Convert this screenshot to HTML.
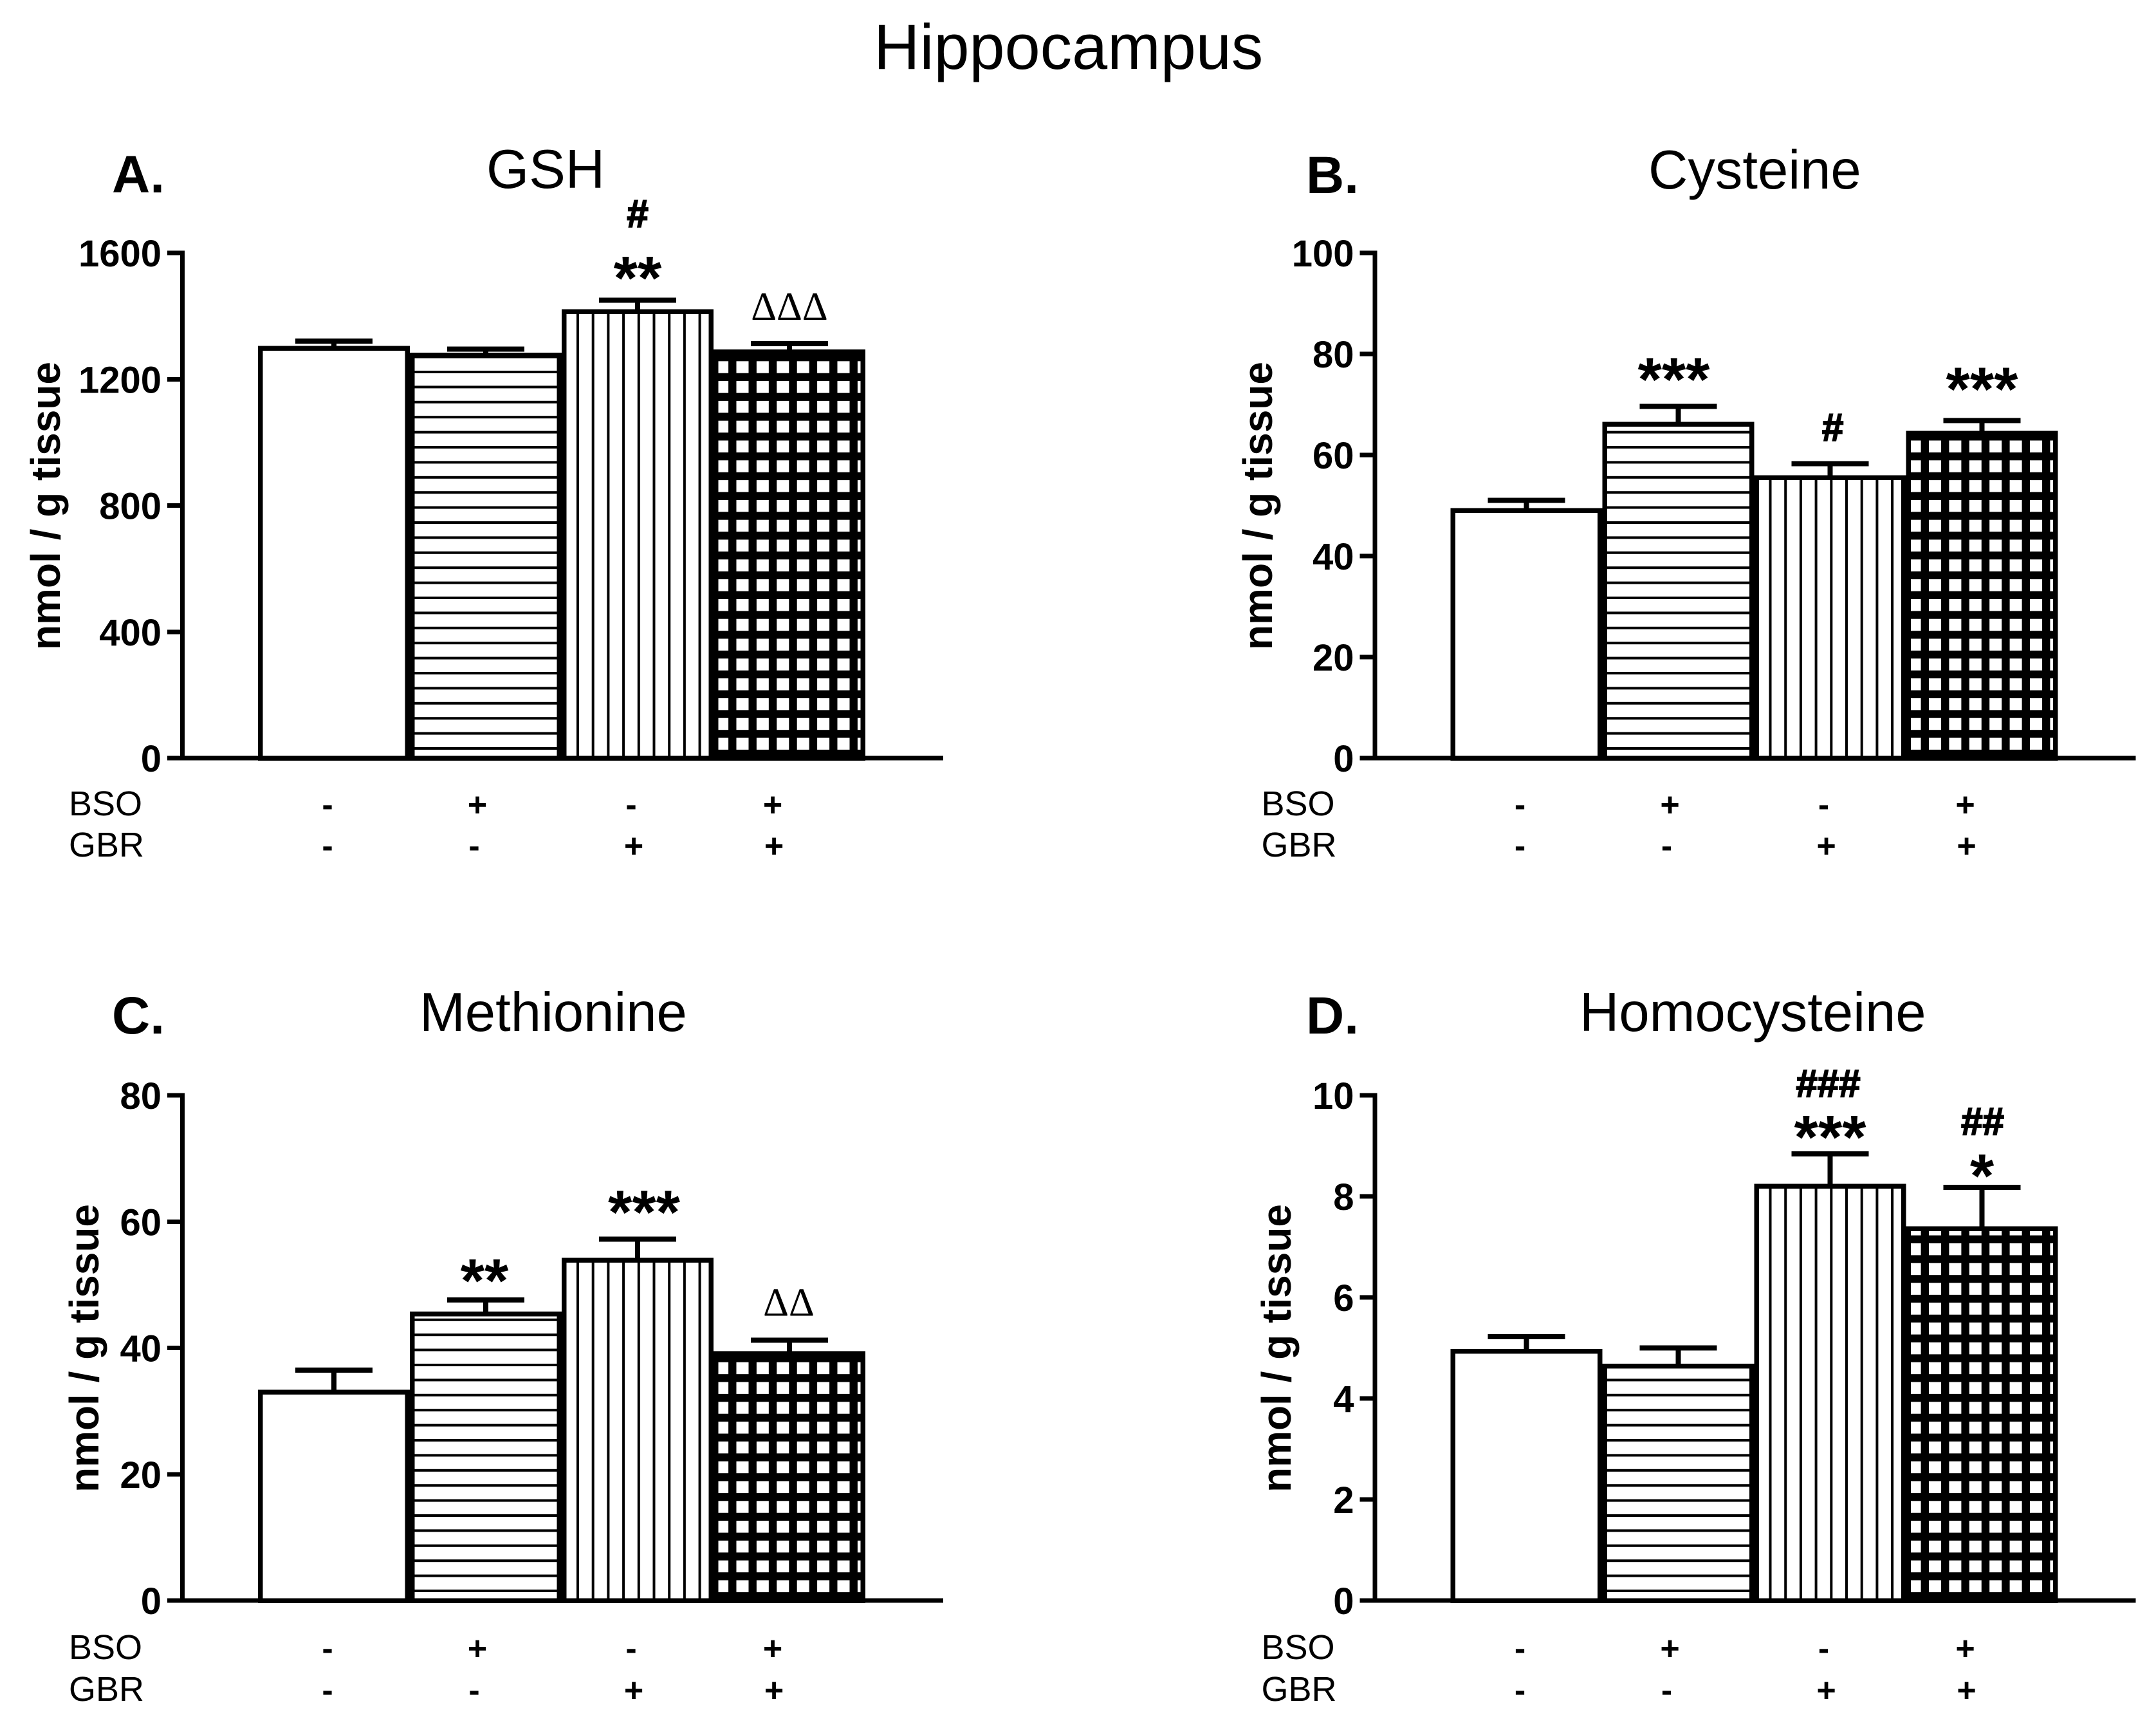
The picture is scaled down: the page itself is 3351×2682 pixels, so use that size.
<!DOCTYPE html>
<html lang="en">
<head>
<meta charset="utf-8">
<title>Hippocampus</title>
<style>
html,body{margin:0;padding:0;background:#fff;}
svg{display:block;}
text{font-family:"Liberation Sans",Arial,sans-serif;fill:#000;}
</style>
</head>
<body>
<svg id="figure" xmlns="http://www.w3.org/2000/svg" width="3351" height="2682" viewBox="0 0 3351 2682">
<defs>
<pattern id="hatch-horizontal" patternUnits="userSpaceOnUse" x="0" y="1161" width="100" height="23.4"><rect width="100" height="23.4" fill="#fff"/><rect width="100" height="4" fill="#000"/></pattern>
<pattern id="hatch-vertical" patternUnits="userSpaceOnUse" x="896" y="0" width="23.7" height="100"><rect width="23.7" height="100" fill="#fff"/><rect width="4" height="100" fill="#000"/></pattern>
<pattern id="hatch-grid" patternUnits="userSpaceOnUse" x="1144.5" y="1146.5" width="31.4" height="30.8"><rect width="31.4" height="30.8" fill="#000"/><rect width="19" height="18.5" fill="#fff"/></pattern>
</defs>
<rect width="3351" height="2682" fill="#fff"/>
<text x="1358" y="107" font-size="99">Hippocampus</text>
</svg>
<script>
// Chart data
const categories = ['Control', 'BSO', 'GBR', 'BSO+GBR'];
const bsoSigns = ['-', '+', '-', '+'];
const gbrSigns = ['-', '-', '+', '+'];

const gshValues = [1298, 1276, 1414, 1287];
const gshErrorTops = [1321, 1295, 1450, 1313];
const gshTicks = [0, 400, 800, 1200, 1600];

const cysteineValues = [49, 66.1, 55.5, 64.3];
const cysteineErrorTops = [51, 69.6, 58.3, 66.8];
const cysteineTicks = [0, 20, 40, 60, 80, 100];

const methionineValues = [33, 45.4, 53.9, 39.1];
const methionineErrorTops = [36.5, 47.6, 57.2, 41.2];
const methionineTicks = [0, 20, 40, 60, 80];

const homocysteineValues = [4.93, 4.64, 8.2, 7.36];
const homocysteineErrorTops = [5.22, 5.0, 8.84, 8.18];
const homocysteineTicks = [0, 2, 4, 6, 8, 10];

// Significance marks: bar index, symbol
const gshMarks = [[2, '**'], [2, '#'], [3, 'ΔΔΔ']];
const cysteineMarks = [[1, '***'], [2, '#'], [3, '***']];
const methionineMarks = [[1, '**'], [2, '***'], [3, 'ΔΔ']];
const homocysteineMarks = [[2, '***'], [2, '###'], [3, '*'], [3, '##']];

// Layout (not data)
const plotBaseY = 1178, plotTopY = 393, axisX = 283.5, axisEndX = 1466, tickStartX = 260;
const barLeft = 401, barStep = 236, barBorder = 7.5;
const hatches = ['none', 'hatch-horizontal', 'hatch-vertical', 'hatch-grid'];
const bsoSignX = [509, 742, 981, 1201];
const gbrSignX = [509, 737, 985, 1203];

const panels = [
  {key:'gsh', letter:'A.', title:'GSH', dx:0, dy:0, titleX:756, titleY:292, letterX:174, letterY:299, yTitleX:93, rowY:[1267, 1331], values:gshValues, tops:gshErrorTops, ticks:gshTicks, marks:gshMarks,
   markLayout:[[0,1.5],[0,114],[0,37]]},
  {key:'cysteine', letter:'B.', title:'Cysteine', dx:1853.5, dy:0, titleX:2562, titleY:293, letterX:2030, letterY:300, yTitleX:1977, rowY:[1267, 1331], values:cysteineValues, tops:cysteineErrorTops, ticks:cysteineTicks, marks:cysteineMarks,
   markLayout:[[-7,9],[4,36],[0,16]]},
  {key:'methionine', letter:'C.', title:'Methionine', dx:0, dy:1309, titleX:652, titleY:1602, letterX:174, letterY:1606, yTitleX:153, rowY:[2578, 2643], values:methionineValues, tops:methionineErrorTops, ticks:methionineTicks, marks:methionineMarks,
   markLayout:[[-2,-3],[10,9],[-1,38]]},
  {key:'homocysteine', letter:'D.', title:'Homocysteine', dx:1853.5, dy:1309, titleX:2455, titleY:1602, letterX:2030, letterY:1606, yTitleX:2006, rowY:[2578, 2643], values:homocysteineValues, tops:homocysteineErrorTops, ticks:homocysteineTicks, marks:homocysteineMarks,
   markLayout:[[0,-7],[-3,89],[0,-15],[1,82]]}
];

const NS = 'http://www.w3.org/2000/svg';
const svg = document.getElementById('figure');

function make(tag, attrs, parent) {
  const el = document.createElementNS(NS, tag);
  for (const k in attrs) el.setAttribute(k, attrs[k]);
  parent.appendChild(el);
  return el;
}
function makeText(str, attrs, parent) {
  const el = make('text', attrs, parent);
  el.textContent = str;
  return el;
}

panels.forEach(function (p) {
  const yMax = p.ticks[p.ticks.length - 1];
  const yScale = function (v) { return plotBaseY - (v / yMax) * (plotBaseY - plotTopY); };
  const xLeft = function (i) { return barLeft + i * barStep; };
  const xCenter = function (i) { return xLeft(i) + barStep / 2; };

  // Panel heading and axis title, absolute coordinates
  const letter = makeText(p.letter, {x:p.letterX, y:p.letterY, 'font-size':82, 'font-weight':'bold'}, svg);
  
  
  const title = makeText(p.title, {x:p.titleX, y:p.titleY, 'font-size':85}, svg);
  
  
  const cy = p.dy + 786;
  const yTitle = makeText('nmol / g tissue', {x:p.yTitleX, y:cy, 'font-size':64, 'font-weight':'bold', 'text-anchor':'middle', transform:'rotate(-90 ' + p.yTitleX + ' ' + cy + ')'}, svg);
  
  

  const g = make('g', {transform:'translate(' + p.dx + ' ' + p.dy + ')'}, svg);
  
  

  // Error bars first, bars cover their lower part
  categories.forEach(function (c, i) {
    const stem = make('rect', {x:xCenter(i) - 4, y:yScale(p.tops[i]), width:8, height:yScale(p.values[i]) - yScale(p.tops[i]), fill:'#000', 'shape-rendering':'crispEdges'}, g);
    
    
    const cap = make('rect', {x:xCenter(i) - 60, y:yScale(p.tops[i]) - 4, width:120, height:8, fill:'#000', 'shape-rendering':'crispEdges'}, g);
    
    
  });

  categories.forEach(function (c, i) {
    const fill = hatches[i] === 'none' ? '#fff' : 'url(#' + hatches[i] + ')';
    const bar = make('rect', {x:xLeft(i) + barBorder / 2, y:yScale(p.values[i]), width:barStep - barBorder, height:plotBaseY - yScale(p.values[i]), fill:fill, stroke:'#000', 'stroke-width':barBorder, 'shape-rendering':'crispEdges'}, g);
    
    
  });

  // Axes
  const yAxis = make('rect', {x:axisX - 3.5, y:plotTopY - 3.5, width:7, height:plotBaseY - plotTopY + 7, fill:'#000', 'shape-rendering':'crispEdges'}, g);
  
  
  const xAxis = make('rect', {x:tickStartX, y:plotBaseY - 3.5, width:axisEndX - tickStartX, height:7, fill:'#000', 'shape-rendering':'crispEdges'}, g);
  
  

  p.ticks.forEach(function (t) {
    const tick = make('rect', {x:tickStartX, y:yScale(t) - 3.5, width:axisX - tickStartX, height:7, fill:'#000', 'shape-rendering':'crispEdges'}, g);
    
    
    const label = makeText(String(t), {x:251, y:yScale(t) + 21, 'font-size':58, 'font-weight':'bold', 'text-anchor':'end'}, g);
    
    
  });

  // Treatment rows, absolute y
  const rows = make('g', {transform:'translate(' + p.dx + ' 0)'}, svg);
  
  
  const bsoLabel = makeText('BSO', {x:107, y:p.rowY[0], 'font-size':54}, rows);
  
  
  const gbrLabel = makeText('GBR', {x:107, y:p.rowY[1], 'font-size':54}, rows);
  
  
  categories.forEach(function (c, i) {
    const bso = makeText(bsoSigns[i], {x:bsoSignX[i], y:p.rowY[0] + 1, 'font-size':52, 'font-weight':'bold', 'text-anchor':'middle'}, rows);
    
    
    const gbr = makeText(gbrSigns[i], {x:gbrSignX[i], y:p.rowY[1] + 1, 'font-size':52, 'font-weight':'bold', 'text-anchor':'middle'}, rows);
    
    
  });

  // Significance marks sit above the error cap of their bar
  p.marks.forEach(function (m, k) {
    const barIndex = m[0], symbol = m[1];
    const off = p.markLayout[k];
    const attrs = {x:xCenter(barIndex) + off[0], y:yScale(p.tops[barIndex]) - off[1], 'text-anchor':'middle'};
    if (symbol.charAt(0) === '*') {
      attrs['font-size'] = 96;
      attrs['font-weight'] = 'bold';
    } else if (symbol.charAt(0) === '#') {
      attrs['font-size'] = 60;
      attrs['font-weight'] = 'bold';
      attrs['stroke'] = '#000';
      attrs['stroke-width'] = 2;
    } else {
      attrs['font-size'] = 62;
      attrs['style'] = 'font-family:"Liberation Serif",serif';
    }
    const mark = makeText(symbol, attrs, g);
    
    
  });
});
</script>
</body>
</html>
